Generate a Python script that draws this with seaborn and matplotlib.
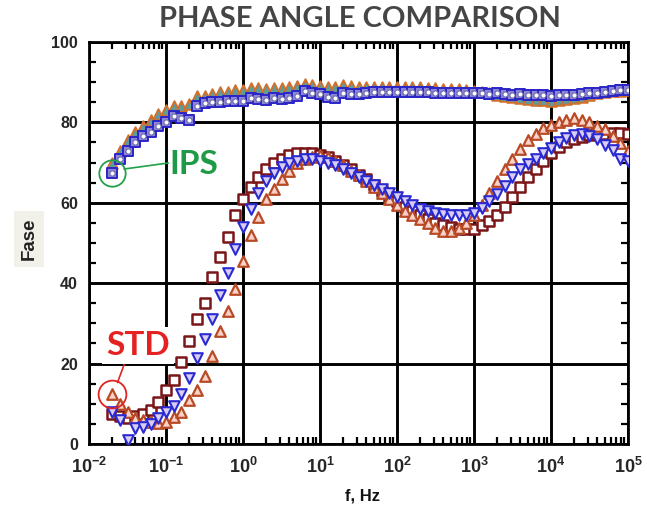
import numpy as np
import pandas as pd
import matplotlib
matplotlib.use("Agg")
import matplotlib.pyplot as plt
import matplotlib.ticker as mticker
import seaborn as sns

# ---------------- data ----------------
freq_hz = np.logspace(-1.7, 5.0, 68)   # measurement sweep, 10 points / decade

std_square = [7.5, 7, 6.5, 7, 7.5, 8.5, 10.5, 13.5, 16, 20.5, 25.5, 31, 35, 41.5, 46.5, 51.5, 57,
              61, 64, 66.5, 68.5, 70, 71, 72, 72.5, 72.5, 72.5, 72, 71.5, 70.5, 69.5, 68.5, 67, 66,
              64.5, 63, 61.5, 60.5, 59, 58, 57, 56, 55, 54.5, 54, 53.5, 53.5, 53.5, 54.5, 55.5, 57,
              59, 61.5, 64, 66.5, 68.5, 70.5, 72.5, 74, 75, 75.8, 76.4, 76.8, 77, 77.2, 77.3, 77.3, 77]

std_tri_up = [12.5, 10, 8, 6.5, 6, 5.5, 5.3, 5.5, 6.8, 8, 11, 13.5, 17, 22, 28, 33, 38.5,
              45.5, 52, 56.5, 61, 63.5, 66, 68, 70, 71, 71.5, 72, 71.5, 70.5, 69.5, 68, 67, 65.5,
              64, 62.5, 61, 59.5, 58, 57, 56, 55, 53.8, 53, 53, 53.8, 55, 57, 59.5, 62.5, 65.5,
              68.5, 71, 73.5, 75.5, 77, 78.5, 79.3, 80, 80.5, 81, 80.7, 80, 79.2, 78.3, 76.5, 74.8, 73]

std_tri_down = [8, 6, 1, 4, 4.2, 5, 6.5, 8, 9.5, 12.5, 16.5, 21.5, 26, 31, 37, 42.5, 48.5,
                54, 58.5, 62.5, 65.5, 67.5, 69, 70, 70.5, 71, 71, 70.5, 70, 69.5, 68.5, 67.5, 66.5,
                65.5, 64.5, 63.5, 62.5, 61.5, 60.5, 59.5, 58.5, 58, 57.5, 57.2, 57, 57, 57, 57.5,
                58.7, 60.5, 62.3, 64.3, 66.5, 68.3, 69.7, 71, 72.5, 73.7, 75.2, 76.2, 76.8, 77,
                76.6, 75.8, 74.5, 73.1, 71, 70.5]

ips_square = [67.5, 71, 73, 75, 76.5, 77.5, 79, 80, 81.5, 81, 80.5, 84, 84.8, 85, 85, 85.3, 85.3,
              85.3, 86, 85.8, 85.6, 86, 85.8, 86, 86.5, 87.8, 87.3, 87, 86.3, 86, 87.3, 87, 87,
              87.4, 87.6, 87.6, 87.5, 87.6, 87.5, 87.5, 87.6, 87.5, 87.4, 87.4, 87.3, 87.4, 87.3,
              87.2, 87.2, 87.1, 87.2, 87, 86.9, 87, 86.8, 86.7, 86.8, 86.6, 86.7, 86.8, 86.9, 87,
              87.2, 87.3, 87.5, 87.8, 88, 88]

ips_tri = [70, 73, 75.5, 77.5, 79, 80.5, 82, 83, 84, 84, 84.5, 86.5, 86.5, 87, 87.5, 87.5, 88,
           88, 88.5, 88.5, 88.3, 88.5, 88.5, 88.7, 89, 89.5, 89.3, 89, 88.8, 88.8, 89.3, 89, 88.8,
           88.8, 88.8, 88.9, 88.8, 88.8, 88.7, 88.7, 88.8, 88.6, 88.5, 88.4, 88.3, 88.2, 88, 87.8,
           87.5, 87.2, 86.8, 86.5, 86.2, 86, 85.8, 85.6, 85.5, 85.4, 85.5, 85.7, 86, 86.4, 86.8,
           87.2, 87.5, 87.7, 87.9, 88]

y_ticks = [0, 20, 40, 60, 80, 100]
x_decades = [1e-2, 1e-1, 1e0, 1e1, 1e2, 1e3, 1e4, 1e5]
x_tick_labels = [r"$\mathbf{10^{-2}}$", r"$\mathbf{10^{-1}}$", r"$\mathbf{10^{0}}$", r"$\mathbf{10^{1}}$",
                 r"$\mathbf{10^{2}}$", r"$\mathbf{10^{3}}$", r"$\mathbf{10^{4}}$", r"$\mathbf{10^{5}}$"]

df = pd.DataFrame({"f": freq_hz, "std_square": std_square, "std_tri_up": std_tri_up,
                   "std_tri_down": std_tri_down, "ips_square": ips_square, "ips_tri": ips_tri})

# ---------------- figure ----------------
sns.set_style("white")
plt.rcParams["font.family"] = ["Liberation Sans", "DejaVu Sans"]
plt.rcParams["mathtext.fontset"] = "custom"
plt.rcParams["mathtext.bf"] = "Liberation Sans:bold"
plt.rcParams["mathtext.rm"] = "Liberation Sans"

fig = plt.figure(figsize=(6.47, 5.09), dpi=100)
ax = fig.add_axes([0.1376, 0.1277, 0.8330, 0.7898])
ax.set_xscale("log")

# IPS group
sns.scatterplot(data=df, x="f", y="ips_tri", marker="^", s=58, color="#5d9c9a",
                edgecolor="#d0702c", linewidth=1.4, ax=ax, zorder=3)
sns.scatterplot(data=df, x="f", y="ips_square", marker="s", s=52, color="#8f86d6",
                edgecolor="#2b25c8", linewidth=1.4, ax=ax, zorder=4)
sns.scatterplot(data=df, x="f", y="ips_square", marker="o", s=14, color="white",
                edgecolor="#6a6aa8", linewidth=0.8, ax=ax, zorder=5)

# STD group
sns.scatterplot(data=df, x="f", y="std_square", marker="s", s=46, color="white",
                edgecolor="#7a1518", linewidth=1.8, ax=ax, zorder=3)
sns.scatterplot(data=df, x="f", y="std_tri_up", marker="^", s=58, color="#fbd2c8",
                edgecolor="#b84a26", linewidth=1.6, ax=ax, zorder=4)
sns.scatterplot(data=df, x="f", y="std_tri_down", marker="v", s=58, color="#d9cdf2",
                edgecolor="#2a2ad2", linewidth=1.5, ax=ax, zorder=5)

ax.set_xlim(1e-2, 1e5)
ax.set_ylim(0, 100)

ax.set_xticks(x_decades)
ax.set_xticklabels(x_tick_labels, fontsize=13)
ax.set_yticks(y_ticks)
ax.set_yticklabels([str(v) for v in y_ticks], fontsize=11.5, fontweight="bold")
ax.xaxis.set_minor_locator(mticker.LogLocator(base=10, subs=np.arange(2, 10), numticks=20))
ax.xaxis.set_minor_formatter(mticker.NullFormatter())
ax.yaxis.set_minor_locator(mticker.MultipleLocator(5))
ax.tick_params(axis="x", which="major", length=0, pad=9)
ax.tick_params(axis="y", which="major", length=0, pad=8)
ax.tick_params(axis="both", which="minor", direction="in", length=5, width=1.6,
               top=True, right=True, bottom=True, left=True, color="black")

ax.grid(True, which="major", color="black", linewidth=2.1, zorder=1)
ax.set_axisbelow(True)
for sp in ax.spines.values():
    sp.set_visible(True)
    sp.set_color("black")
    sp.set_linewidth(2.0)

ax.set_xlabel("")
ax.set_ylabel("")

# axis labels
fig.text(0.045, 0.53, "Fase", rotation=90, ha="center", va="center", fontsize=13.5,
         fontweight="bold", color="#222222",
         bbox=dict(boxstyle="square,pad=0.35", facecolor="#f1f1ea", edgecolor="none"))
fig.text(0.56, 0.040, "f, Hz", ha="center", va="top", fontsize=12, fontweight="bold", color="#111111")

# title
fig.text(0.556, 0.963, "PHASE ANGLE COMPARISON", ha="center", va="center", fontsize=21,
         fontweight="bold", color="#454545", family=["Lato", "DejaVu Sans"])

# annotations (circle the first point of each group)
ax.plot([freq_hz[0]], [ips_square[0]], marker="o", markersize=19, markerfacecolor="none",
        markeredgecolor="#22a04a", markeredgewidth=1.3, zorder=6, clip_on=False)
ax.plot([10 ** -1.545, 10 ** -0.97], [68.4, 69.9], color="#22a04a", linewidth=1.2, zorder=6)
ax.text(10 ** -0.95, 69.6, "IPS", color="#1f9a47", fontsize=24, fontweight="bold",
        ha="left", va="center", family=["Lato", "DejaVu Sans"], zorder=7)

ax.plot([freq_hz[0]], [std_tri_up[0]], marker="o", markersize=20, markerfacecolor="none",
        markeredgecolor="#e02424", markeredgewidth=1.3, zorder=6, clip_on=False)
ax.plot([10 ** -1.63, 10 ** -1.53], [15.3, 20.5], color="#e02424", linewidth=1.2, zorder=6)
ax.text(10 ** -1.78, 24.4, "STD", color="#e42222", fontsize=24, fontweight="bold",
        ha="left", va="center", family=["Lato", "DejaVu Sans"], zorder=7, clip_on=False,
        bbox=dict(boxstyle="square,pad=0.12", facecolor="white", edgecolor="none"))

fig.savefig("out.png", dpi=100)
